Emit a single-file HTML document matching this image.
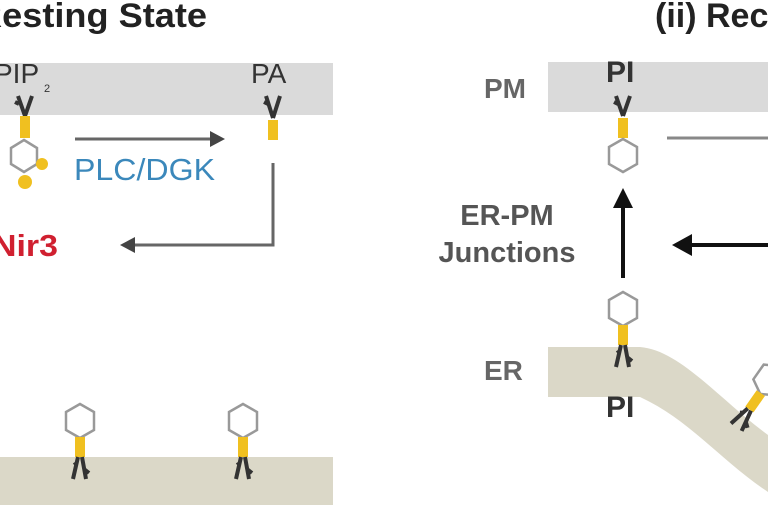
<!DOCTYPE html>
<html><head><style>html,body{margin:0;padding:0;background:#fff;width:768px;height:512px;overflow:hidden}</style></head>
<body>
<svg width="768" height="512" viewBox="0 0 768 512" xmlns="http://www.w3.org/2000/svg" font-family="Liberation Sans, sans-serif" font-weight="bold">
<defs>
<g id="lipUp">
 <polygon points="0,-17 14,-9 14,9 0,17 -14,9 -14,-9" fill="#fff" stroke="#999" stroke-width="2.5"/>
 <rect x="-5" y="16" width="10" height="20" fill="#f0c020"/>
 <path d="M-2,36 L-7,58 M2,36 L6,58 M-3,42 L-6,44 M4,48 L9,52" stroke="#333" stroke-width="4" fill="none"/>
</g>
</defs>
<text x="-24" y="27" font-size="34" fill="#222" textLength="231" lengthAdjust="spacingAndGlyphs">Resting State</text>
<text x="655" y="27" font-size="34" fill="#222">(ii) Rec</text>
<rect x="0" y="63" width="333" height="52" fill="#dadada"/>
<rect x="548" y="62" width="220" height="50" fill="#dadada"/>
<rect x="0" y="457" width="333" height="48" fill="#dbd8c8"/>
<path d="M548,347 L640,347 C680,350 720,400 768,435 L768,492 C720,460 690,420 640,397 L548,397 Z" fill="#dbd8c8"/>
<!-- PIP2 -->
<text x="-6" y="83" font-size="28" font-weight="normal" fill="#333">PIP</text>
<text x="44" y="92" font-size="11" font-weight="normal" fill="#333">2</text>
<path d="M18,96 L25,116 M32,96 L25,116 M15,102 L19,104" stroke="#333" stroke-width="4" fill="none"/>
<rect x="20" y="116" width="10" height="22" fill="#f0c020"/>
<polygon points="24,140 37,148 37,164 24,172 11,164 11,148" fill="#fff" stroke="#999" stroke-width="2.5"/>
<circle cx="42" cy="164" r="6" fill="#f0c020"/>
<circle cx="25" cy="182" r="7" fill="#f0c020"/>
<!-- PA -->
<text x="251" y="83" font-size="28" font-weight="normal" fill="#333">PA</text>
<path d="M266,96 L273,118 M280,96 L273,118 M264,102 L268,104" stroke="#333" stroke-width="4" fill="none"/>
<rect x="268" y="120" width="10" height="20" fill="#f0c020"/>
<line x1="75" y1="139" x2="218" y2="139" stroke="#666" stroke-width="3"/>
<polygon points="225,139 210,131 210,147" fill="#444"/>
<text x="74" y="180" font-size="31" font-weight="normal" fill="#3b88bb" textLength="141" lengthAdjust="spacingAndGlyphs">PLC/DGK</text>
<polyline points="273,163 273,245 128,245" fill="none" stroke="#666" stroke-width="3"/>
<polygon points="120,245 135,237 135,253" fill="#444"/>
<text x="-8" y="256" font-size="31" fill="#d02030" textLength="66" lengthAdjust="spacingAndGlyphs">Nir3</text>
<use href="#lipUp" x="80" y="421"/>
<use href="#lipUp" x="243" y="421"/>
<!-- right -->
<text x="484" y="98" font-size="28" fill="#666">PM</text>
<text x="606" y="82" font-size="30" fill="#333">PI</text>
<path d="M616,96 L623,116 M630,96 L623,116 M614,102 L618,104" stroke="#333" stroke-width="4" fill="none"/>
<rect x="618" y="118" width="10" height="20" fill="#f0c020"/>
<polygon points="623,139 637,147 637,164 623,172 609,164 609,147" fill="#fff" stroke="#999" stroke-width="2.5"/>
<line x1="667" y1="138" x2="768" y2="138" stroke="#888" stroke-width="3"/>
<line x1="623" y1="278" x2="623" y2="200" stroke="#111" stroke-width="4"/>
<polygon points="623,188 613,208 633,208" fill="#111"/>
<line x1="685" y1="245" x2="768" y2="245" stroke="#111" stroke-width="4"/>
<polygon points="672,245 692,234 692,256" fill="#111"/>
<text x="507" y="225" font-size="29" fill="#555" text-anchor="middle">ER-PM</text>
<text x="507" y="262" font-size="29" fill="#555" text-anchor="middle">Junctions</text>
<use href="#lipUp" x="623" y="309"/>
<text x="484" y="380" font-size="28" fill="#666">ER</text>
<text x="606" y="417" font-size="30" fill="#333">PI</text>
<use href="#lipUp" x="0" y="0" transform="translate(770,380) rotate(35)"/>
</svg>
</body></html>
